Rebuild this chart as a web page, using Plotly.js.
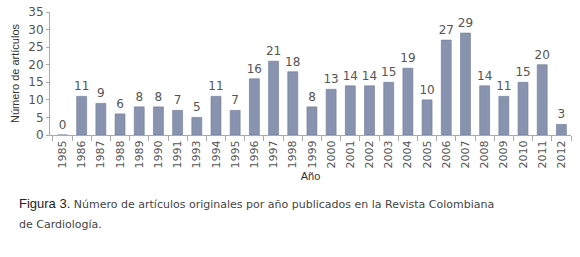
<!DOCTYPE html>
<html><head><meta charset="utf-8">
<script src="https://cdn.plot.ly/plotly-3.0.1.min.js"></script>
<style>html,body{margin:0;padding:0;background:#fff;}#chart{width:580px;height:257px;}</style>
</head><body><div id="chart"></div>
<script>
const years = ["1985","1986","1987","1988","1989","1990","1991","1993","1994","1995","1996","1997","1998","1999","2000","2001","2002","2003","2004","2005","2006","2007","2008","2009","2010","2011","2012"];
const articles = [0,11,9,6,8,8,7,5,11,7,16,21,18,8,13,14,14,15,19,10,27,29,14,11,15,20,3];
const yTickValues = [0,5,10,15,20,25,30,35];
const xTitle = "Año";
const yTitle = "Número de artículos";
const captionBold = "Figura 3.";
const captionLine1 = " Número de artículos originales por año publicados en la Revista Colombiana";
const captionLine2 = "de Cardiología.";

const trace = {
  type: "bar",
  x: years,
  y: articles,
  text: articles.map(String),
  textposition: "outside",
  constraintext: "none",
  cliponaxis: false,
  textfont: {family: "DejaVu Sans", size: 12, color: "#555"},
  marker: {color: "#8893AF", line: {color: "#6f7a96", width: 0.6}},
  width: 0.52,
  hoverinfo: "none"
};

const layout = {
  width: 580, height: 257,
  margin: {l: 50, r: 9, t: 11.7, b: 122.3},
  paper_bgcolor: "#fff", plot_bgcolor: "#fff",
  showlegend: false,
  uniformtext: {mode: "show", minsize: 12},
  xaxis: {
    type: "category",
    range: [-0.65, 26.5],
    showline: true, linecolor: "#aaa", linewidth: 1,
    ticks: "outside", ticklen: 5, tickcolor: "#aaa",
    tickson: "boundaries",
    tickangle: -90,
    tickfont: {family: "DejaVu Sans", size: 11, color: "#555"},
    showgrid: false, zeroline: false,
    title: {text: xTitle, font: {family: "Liberation Sans", size: 11, color: "#333"}, standoff: 4},
    fixedrange: true
  },
  yaxis: {
    range: [0, 35],
    tickvals: yTickValues,
    showline: true, linecolor: "#aaa", linewidth: 1,
    ticks: "outside", ticklen: 3, tickcolor: "#aaa",
    tickfont: {family: "DejaVu Sans", size: 12, color: "#555"},
    showgrid: false, zeroline: false,
    title: {text: yTitle, font: {family: "Liberation Sans", size: 11, color: "#333"}, standoff: 6},
    fixedrange: true
  },
  font: {family: "DejaVu Sans"},
  annotations: [
    {xref: "paper", yref: "paper", x: -50/521, y: -(213-134.7)/123.3, xanchor: "left", yanchor: "bottom",
     xshift: 17, showarrow: false, align: "left",
     text: "<span style='font-family:Liberation Sans;font-size:13px;color:#222'>" + captionBold + "</span><span style='font-family:DejaVu Sans;font-size:11px;color:#444'>" + captionLine1 + "</span>"},
    {xref: "paper", yref: "paper", x: -50/521, y: -(233-134.7)/123.3, xanchor: "left", yanchor: "bottom",
     xshift: 17, showarrow: false, align: "left",
     text: "<span style='font-family:DejaVu Sans;font-size:11px;color:#444'>" + captionLine2 + "</span>"}
  ]
};

Plotly.newPlot("chart", [trace], layout, {staticPlot: true, displayModeBar: false});
</script></body></html>
